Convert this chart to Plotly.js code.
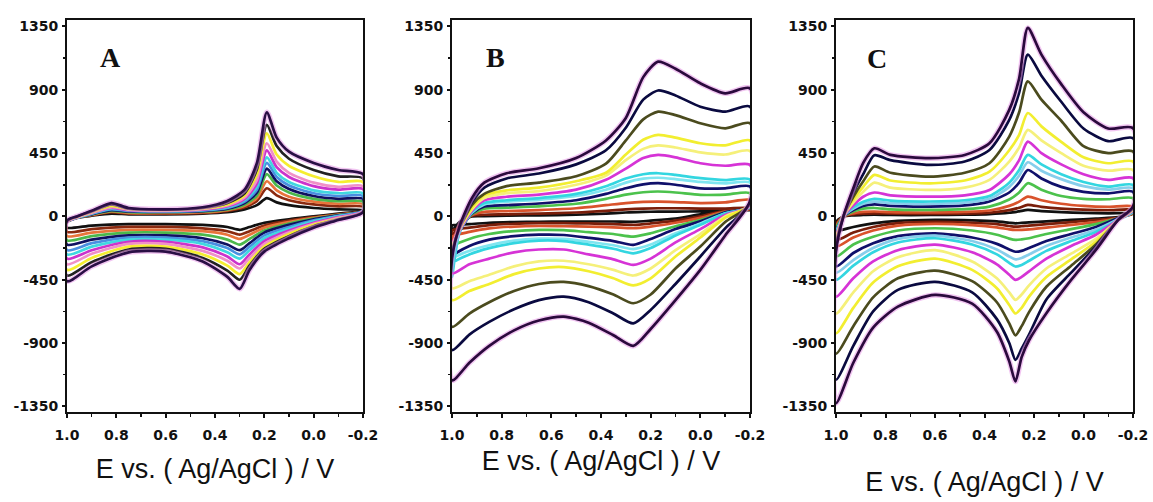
<!DOCTYPE html>
<html><head><meta charset="utf-8">
<script src="https://cdn.plot.ly/plotly-3.0.1.min.js"></script>
<style>html,body{margin:0;padding:0;background:#fff;} #chart{width:1153px;height:502px;}</style>
</head><body><div id="chart"></div>
<script>
// ---------- shared tick labels ----------
const yTickVals = [-1350, -900, -450, 0, 450, 900, 1350];
const yTickText = ['-1350', '-900', '-450', '0', '450', '900', '1350'];
const xTickVals = [1.0, 0.8, 0.6, 0.4, 0.2, 0.0, -0.2];
const xTickText = ['1.0', '0.8', '0.6', '0.4', '0.2', '0.0', '-0.2'];
const xTitle = 'E vs. ( Ag/AgCl ) / V';
const panelLetters = ['A', 'B', 'C'];

// ---------- Panel A (potential in V, current in arbitrary units) ----------
const aUpX = [1.0, 0.96, 0.9, 0.82, 0.75, 0.6, 0.45, 0.35, 0.28, 0.23, 0.19, 0.15, 0.1, 0.0, -0.1, -0.2];
const aLoX = [-0.2, -0.1, 0.0, 0.1, 0.2, 0.26, 0.3, 0.35, 0.45, 0.6, 0.75, 0.9, 1.0];
const aUp = [
  [-40, -10, 5, 20, 15, 15, 20, 30, 50, 80, 130, 100, 80, 60, 50, 45],
  [-40, -10, 10, 30, 20, 20, 25, 40, 65, 110, 200, 150, 115, 85, 72, 68],
  [-40, -10, 10, 35, 25, 25, 30, 45, 75, 130, 250, 185, 140, 105, 90, 88],
  [-40, -10, 15, 40, 30, 30, 35, 50, 85, 150, 300, 220, 170, 125, 108, 105],
  [-40, -10, 15, 45, 35, 32, 38, 55, 95, 170, 340, 250, 195, 145, 125, 125],
  [-40, -10, 20, 50, 40, 35, 42, 60, 105, 190, 380, 280, 220, 165, 145, 145],
  [-40, -10, 20, 55, 42, 38, 45, 65, 115, 210, 420, 310, 245, 185, 165, 165],
  [-40, -5, 25, 60, 45, 40, 48, 72, 125, 235, 470, 350, 280, 215, 190, 195],
  [-40, -5, 25, 65, 48, 42, 52, 78, 135, 260, 520, 390, 310, 240, 210, 215],
  [-35, -5, 30, 75, 52, 45, 56, 85, 150, 300, 590, 440, 360, 285, 245, 245],
  [-35, 0, 35, 85, 55, 48, 60, 95, 165, 335, 650, 500, 410, 330, 285, 270],
  [-30, 0, 40, 95, 60, 50, 65, 110, 190, 380, 740, 560, 460, 380, 330, 300]
];
const aLo = [
  [40, 20, 0, -20, -45, -75, -95, -75, -60, -55, -55, -65, -80],
  [40, 15, -5, -30, -65, -105, -130, -105, -85, -75, -75, -90, -110],
  [40, 12, -10, -40, -80, -130, -160, -130, -105, -95, -95, -115, -140],
  [40, 10, -15, -50, -100, -160, -200, -165, -130, -115, -115, -140, -170],
  [40, 8, -20, -60, -115, -190, -240, -200, -155, -135, -135, -165, -200],
  [40, 5, -28, -75, -135, -215, -270, -225, -175, -150, -150, -190, -240],
  [38, 0, -35, -88, -155, -240, -300, -255, -195, -165, -165, -215, -270],
  [36, -5, -45, -100, -175, -270, -340, -285, -220, -180, -180, -240, -300],
  [35, -10, -52, -112, -195, -295, -370, -315, -245, -195, -195, -265, -340],
  [33, -15, -60, -125, -215, -325, -410, -350, -270, -215, -215, -295, -380],
  [32, -20, -70, -140, -230, -350, -450, -385, -295, -230, -235, -325, -420],
  [30, -25, -80, -155, -250, -380, -515, -430, -320, -250, -255, -355, -460]
];
const aColors = ['#111111', '#8B2A10', '#E8743B', '#4CB84C', '#101060', '#4A8FE0', '#40D8E0', '#CC33CC', '#F090C8', '#F5EE30', '#222222', '#2A0F45'];

// ---------- Panel B ----------
const bUpX = [1.0, 0.97, 0.92, 0.87, 0.78, 0.65, 0.5, 0.38, 0.3, 0.23, 0.17, 0.1, 0.0, -0.1, -0.2];
const bLoX = [-0.2, -0.1, 0.0, 0.1, 0.2, 0.27, 0.35, 0.45, 0.55, 0.65, 0.75, 0.85, 0.93, 1.0];
const bUp = [
  [-100, -40, 0, 2, 5, 8, 12, 20, 28, 32, 34, 34, 36, 40, 45],
  [-140, -60, 5, 12, 15, 20, 28, 40, 50, 56, 58, 58, 56, 56, 60],
  [-180, -80, 10, 32, 38, 45, 58, 80, 95, 103, 105, 102, 95, 100, 117],
  [-260, -100, 15, 55, 62, 72, 90, 125, 155, 172, 177, 170, 153, 155, 165],
  [-330, -110, 20, 70, 80, 92, 115, 160, 200, 228, 236, 225, 200, 200, 212],
  [-400, -110, 25, 85, 105, 118, 145, 190, 240, 268, 275, 265, 245, 235, 240],
  [-430, -110, 30, 95, 115, 130, 160, 215, 270, 300, 307, 295, 272, 258, 262],
  [-200, -100, 40, 115, 140, 155, 190, 260, 340, 415, 437, 420, 378, 360, 366],
  [-220, -95, 50, 130, 165, 180, 225, 290, 400, 480, 505, 490, 455, 440, 465],
  [-240, -90, 60, 150, 185, 205, 250, 310, 440, 545, 580, 560, 520, 505, 540],
  [-260, -85, 80, 160, 215, 240, 285, 375, 540, 690, 745, 720, 662, 626, 662],
  [-280, -80, 100, 205, 270, 305, 370, 470, 630, 830, 895, 860, 780, 745, 780],
  [-300, -72, 130, 240, 307, 342, 415, 540, 700, 990, 1100, 1050, 946, 875, 910]
];
const bLo = [
  [45, 40, 15, -15, -30, -38, -36, -36, -36, -38, -40, -45, -55, -65],
  [50, 40, 0, -30, -50, -60, -55, -50, -48, -48, -52, -62, -80, -100],
  [55, 35, -10, -45, -72, -84, -78, -72, -70, -68, -72, -85, -110, -145],
  [60, 30, -25, -70, -120, -143, -125, -112, -98, -96, -104, -125, -160, -215],
  [65, 30, -35, -90, -160, -202, -175, -152, -132, -130, -140, -165, -210, -285],
  [68, 22, -50, -120, -200, -232, -205, -180, -160, -158, -172, -205, -245, -305],
  [70, 20, -60, -135, -225, -262, -230, -200, -175, -172, -190, -225, -270, -335],
  [75, 10, -90, -185, -300, -345, -305, -270, -235, -235, -255, -300, -340, -405],
  [80, 0, -125, -240, -370, -420, -380, -340, -315, -320, -355, -415, -460, -510],
  [85, -10, -150, -285, -440, -490, -440, -390, -360, -370, -410, -480, -530, -595],
  [90, -40, -214, -370, -555, -617, -555, -495, -465, -480, -530, -610, -690, -785],
  [95, -85, -285, -480, -665, -760, -690, -610, -570, -595, -660, -750, -840, -950],
  [110, -135, -380, -595, -800, -920, -845, -755, -712, -740, -810, -920, -1040, -1165]
];
const bColors = ['#111111', '#7A1E0A', '#D9532C', '#4CC24C', '#10106A', '#7FE5F0', '#33D6E0', '#D633D6', '#F5F07A', '#F2EE30', '#4B4B1E', '#0A0A40', '#2B0A3D'];

// ---------- Panel C ----------
const cUpX = [1.0, 0.97, 0.93, 0.89, 0.845, 0.78, 0.62, 0.48, 0.38, 0.3, 0.26, 0.225, 0.17, 0.09, 0.0, -0.1, -0.2];
const cLoX = [-0.2, -0.14, -0.05, 0.05, 0.15, 0.22, 0.25, 0.275, 0.3, 0.35, 0.45, 0.6, 0.75, 0.85, 0.93, 1.0];
const cUp = [
  [-40, 0, 8, 10, 12, 10, 10, 12, 16, 26, 36, 46, 38, 30, 25, 22, 22],
  [-55, 0, 15, 20, 22, 20, 18, 20, 26, 45, 62, 82, 68, 55, 48, 44, 46],
  [-70, 0, 22, 32, 35, 30, 28, 32, 42, 75, 105, 141, 115, 90, 75, 68, 70],
  [-90, 0, 35, 55, 60, 50, 46, 52, 70, 120, 170, 236, 190, 145, 125, 122, 129],
  [-110, 0, 45, 75, 85, 75, 70, 78, 106, 170, 240, 330, 270, 210, 175, 164, 176],
  [-120, 0, 55, 90, 105, 95, 90, 98, 125, 210, 290, 385, 325, 265, 215, 190, 200],
  [-130, 0, 65, 105, 125, 112, 106, 115, 145, 240, 330, 437, 370, 300, 245, 212, 224],
  [-150, 0, 80, 140, 170, 150, 141, 150, 188, 300, 400, 532, 450, 370, 300, 260, 272],
  [-170, 0, 100, 175, 240, 205, 188, 205, 260, 390, 490, 615, 540, 450, 360, 325, 330],
  [-190, 0, 120, 210, 295, 255, 235, 255, 318, 470, 580, 735, 640, 530, 420, 378, 390],
  [-210, 0, 140, 250, 355, 310, 283, 310, 378, 567, 740, 960, 830, 680, 500, 450, 461],
  [-230, 0, 170, 300, 435, 400, 366, 390, 472, 686, 880, 1150, 1000, 815, 625, 535, 556],
  [-250, 0, 200, 380, 484, 437, 414, 437, 520, 757, 980, 1340, 1150, 940, 740, 625, 627]
];
const cLo = [
  [20, -5, -15, -25, -35, -42, -46, -49, -45, -35, -28, -25, -32, -50, -75, -100],
  [22, -8, -25, -40, -55, -65, -70, -73, -68, -55, -45, -38, -48, -75, -115, -167],
  [25, -12, -40, -60, -80, -92, -95, -96, -92, -78, -62, -53, -65, -100, -150, -214],
  [30, -12, -55, -90, -125, -155, -163, -167, -158, -130, -100, -84, -100, -145, -200, -285],
  [35, -12, -75, -125, -175, -225, -245, -251, -235, -195, -150, -120, -140, -190, -260, -356],
  [35, -20, -95, -150, -210, -270, -295, -305, -285, -235, -175, -137, -160, -225, -310, -400],
  [40, -25, -110, -175, -245, -315, -345, -356, -330, -270, -200, -155, -185, -255, -350, -450],
  [45, -25, -130, -210, -300, -390, -430, -451, -415, -340, -255, -200, -240, -320, -440, -570],
  [50, -25, -160, -265, -370, -490, -555, -593, -540, -440, -320, -240, -290, -390, -540, -690],
  [55, -25, -180, -305, -430, -570, -650, -690, -630, -510, -380, -300, -355, -470, -650, -830],
  [60, -25, -200, -350, -500, -680, -780, -845, -760, -610, -460, -385, -440, -575, -780, -975],
  [65, -25, -214, -400, -590, -840, -940, -1020, -900, -730, -540, -465, -522, -675, -920, -1160],
  [70, -25, -238, -451, -688, -880, -1000, -1173, -1030, -820, -620, -558, -641, -790, -1040, -1327]
];
const cColors = ['#111111', '#7A1E0A', '#D9532C', '#4CC24C', '#10106A', '#87CEEB', '#33D6E0', '#D633D6', '#F5F07A', '#F2EE30', '#4B4B1E', '#0A0A40', '#2B0A3D'];

// ---------- build traces ----------
const panels = [
  {upX: aUpX, loX: aLoX, up: aUp, lo: aLo, colors: aColors, xa: 'x', ya: 'y'},
  {upX: bUpX, loX: bLoX, up: bUp, lo: bLo, colors: bColors, xa: 'x2', ya: 'y2'},
  {upX: cUpX, loX: cLoX, up: cUp, lo: cLo, colors: cColors, xa: 'x3', ya: 'y3'}
];
const traces = [];
panels.forEach(p => {
  const n = p.up.length;
  p.up.forEach((u, i) => {
    const l = p.lo[i];
    const xs = p.upX.concat(p.loX, [p.upX[0]]);
    const ys = u.concat(l, [u[0]]);
    if (i === n - 1) {
      // faint pink fringe round the outermost (dark) loop, as in the scan
      traces.push({
        type: 'scatter', mode: 'lines', xaxis: p.xa, yaxis: p.ya, x: xs, y: ys,
        line: {color: 'rgba(230,150,230,0.55)', width: 5.5, shape: 'spline', smoothing: 0.7},
        hoverinfo: 'skip', showlegend: false
      });
    }
    traces.push({
      type: 'scatter', mode: 'lines', xaxis: p.xa, yaxis: p.ya, x: xs, y: ys,
      line: {color: p.colors[i], width: 2.7, shape: 'spline', smoothing: 0.7},
      hoverinfo: 'skip', showlegend: false
    });
  });
});

const W = 1153, H = 502;
const plotTop = 20, plotBot = 412;
const xDomains = [[67, 363], [452, 750], [836, 1133]];
const tickFont = {family: 'DejaVu Sans, Liberation Sans, sans-serif', size: 14, color: '#111', weight: 'bold'};
const titleFont = {family: 'Liberation Sans, Arial, sans-serif', size: 27, color: '#111'};
const standoffs = [17, 9, 30];

function xAxis(i) {
  return {
    domain: [xDomains[i][0] / W, xDomains[i][1] / W],
    anchor: i === 0 ? 'y' : 'y' + (i + 1),
    range: [1.0, -0.2], autorange: false,
    tickmode: 'array', tickvals: xTickVals, ticktext: xTickText,
    ticks: 'outside', ticklen: 4, tickwidth: 2, tickcolor: '#111',
    minor: {tickmode: 'array', tickvals: [0.9, 0.7, 0.5, 0.3, 0.1, -0.1], ticks: 'outside', ticklen: 3, tickwidth: 1.5, tickcolor: '#111'},
    showline: true, mirror: true, linewidth: 2, linecolor: '#111',
    showgrid: false, zeroline: false,
    tickfont: tickFont, ticklabelstandoff: 5,
    title: {text: xTitle, font: titleFont, standoff: standoffs[i]}
  };
}
function yAxis(i) {
  return {
    domain: [1 - plotBot / H, 1 - plotTop / H],
    anchor: i === 0 ? 'x' : 'x' + (i + 1),
    range: [-1390, 1396], autorange: false,
    tickmode: 'array', tickvals: yTickVals, ticktext: yTickText,
    ticks: 'outside', ticklen: 3, tickwidth: 2, tickcolor: '#111',
    minor: {tickmode: 'array', tickvals: [-1125, -675, -225, 225, 675, 1125], ticks: 'outside', ticklen: 2, tickwidth: 1.5, tickcolor: '#111'},
    showline: true, mirror: true, linewidth: 2, linecolor: '#111',
    showgrid: false, zeroline: false,
    tickfont: tickFont, ticklabelstandoff: 1
  };
}

const letterPos = [[110, 57], [495, 57], [877, 58]];
const annotations = panelLetters.map((t, i) => ({
  text: t, xref: 'paper', yref: 'paper',
  x: letterPos[i][0] / W, y: 1 - letterPos[i][1] / H,
  xanchor: 'center', yanchor: 'middle', showarrow: false,
  font: {family: 'Liberation Serif, Times New Roman, serif', size: 28, color: '#111', weight: 'bold'}
}));

const layout = {
  width: W, height: H,
  margin: {l: 0, r: 0, t: 0, b: 0},
  paper_bgcolor: '#fff', plot_bgcolor: '#fff',
  showlegend: false,
  xaxis: xAxis(0), xaxis2: xAxis(1), xaxis3: xAxis(2),
  yaxis: yAxis(0), yaxis2: yAxis(1), yaxis3: yAxis(2),
  annotations: annotations
};
Plotly.newPlot('chart', traces, layout, {staticPlot: true, displayModeBar: false});
</script></body></html>
